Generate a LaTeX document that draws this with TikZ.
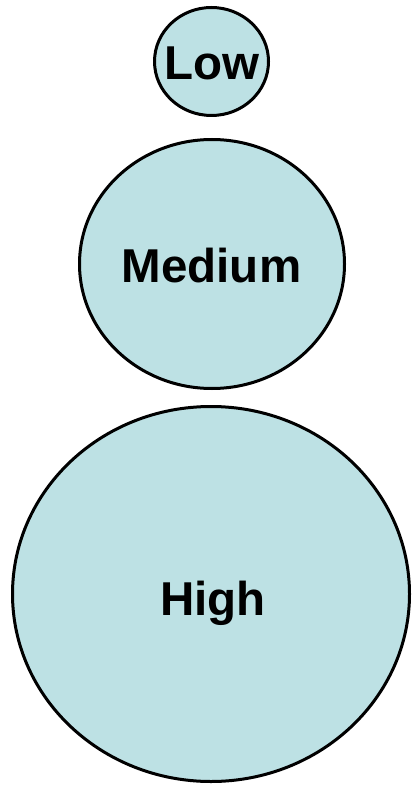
\documentclass[tikz,border=0pt]{standalone}
\usepackage{fontspec}
\setmainfont{Liberation Sans}
\usepackage{tikz}
\definecolor{lvfill}{HTML}{BDE1E4}
\definecolor{lvline}{HTML}{000000}

\begin{document}
\begin{tikzpicture}[x=1pt,y=-1pt,
  bubble/.style={fill=lvfill,draw=lvline,line width=3pt},
  lvtext/.style={anchor=base,inner sep=0pt,font=\fontsize{47.5}{52}\selectfont\bfseries}]
  \useasboundingbox (0,0) rectangle (412,786);
  \draw[bubble] (211.5,61.5) ellipse [x radius=57, y radius=54];
  \draw[bubble] (212,264) ellipse [x radius=132.5, y radius=124.5];
  \draw[bubble] (211,594) ellipse [x radius=198.5, y radius=187.5];
  \node[lvtext] (low) at (211.5,80) {Low};
  \node[lvtext] (medium) at (211.5,282) {Medium};
  \node[lvtext] (high) at (213,615) {High};
\end{tikzpicture}
\end{document}
